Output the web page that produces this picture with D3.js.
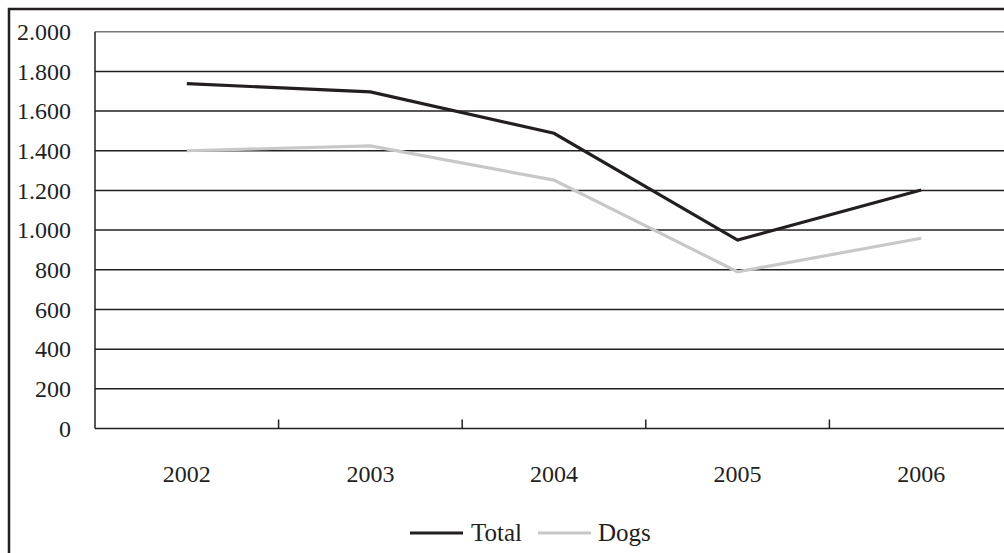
<!DOCTYPE html>
<html><head><meta charset="utf-8">
<script src="https://cdn.jsdelivr.net/npm/d3@7"></script>
<style>body{margin:0;background:#fff;}svg{display:block;}</style>
</head><body><svg id="c" width="1004" height="553"></svg>
<script>
const years = ["2002","2003","2004","2005","2006"];
const totalValues = [1738, 1697, 1488, 950, 1202];
const dogsValues = [1400, 1424, 1252, 790, 959];
const yTicks = [0,200,400,600,800,1000,1200,1400,1600,1800,2000];
const yTickLabels = ["0","200","400","600","800","1.000","1.200","1.400","1.600","1.800","2.000"];
const seriesNames = ["Total","Dogs"];
const seriesColors = ["#231f20","#c8c8c8"];
const FONT = "'Liberation Serif', 'Times New Roman', serif";

const svg = d3.select("#c");
svg.append("rect").attr("x",9).attr("y",9).attr("width",1100).attr("height",700)
  .attr("fill","none").attr("stroke","#231f20").attr("stroke-width",2.5);

const x = d3.scaleBand().domain(years).range([95,1013]);
const y = d3.scaleLinear().domain([0,2000]).range([428.5,31.7]);

svg.append("g").selectAll("line").data(yTicks.filter(t=>t>0)).join("line")
  .attr("x1",95).attr("x2",1013).attr("y1",d=>y(d)).attr("y2",d=>y(d))
  .attr("stroke",d=>d===2000?"#777":"#231f20").attr("stroke-width",1.5);

svg.append("line").attr("x1",95).attr("x2",95).attr("y1",y(2000)).attr("y2",y(0))
  .attr("stroke","#231f20").attr("stroke-width",1.5);
svg.append("line").attr("x1",95).attr("x2",1013).attr("y1",y(0)).attr("y2",y(0))
  .attr("stroke","#231f20").attr("stroke-width",1.5);
svg.append("g").selectAll("line").data(years.slice(1)).join("line")
  .attr("x1",d=>x(d)).attr("x2",d=>x(d)).attr("y1",y(0)).attr("y2",y(0)-9)
  .attr("stroke","#231f20").attr("stroke-width",1.5);

svg.append("g").selectAll("text").data(yTicks).join("text")
  .attr("x",71).attr("y",d=>y(d)).attr("dy","0.34em").attr("text-anchor","end")
  .style("font-family",FONT).style("font-size","24px").attr("fill","#231f20").text((d,i)=>yTickLabels[i]);

svg.append("g").selectAll("text").data(years).join("text")
  .attr("x",d=>x(d)+x.bandwidth()/2).attr("y",482).attr("text-anchor","middle")
  .style("font-family",FONT).style("font-size","24px").attr("fill","#231f20").text(d=>d);

const line = d3.line().x((d,i)=>x(years[i])+x.bandwidth()/2).y(d=>y(d));
[totalValues,dogsValues].forEach((vals,k)=>{
  svg.append("path").datum(vals).attr("d",line).attr("fill","none")
    .attr("stroke",seriesColors[k]).attr("stroke-width",3.2).attr("stroke-linejoin","miter");
});

const leg = [{x1:410,x2:463,tx:471},{x1:538,x2:591,tx:598}];
leg.forEach((l,k)=>{
  svg.append("line").attr("x1",l.x1).attr("x2",l.x2).attr("y1",533).attr("y2",533)
    .attr("stroke",seriesColors[k]).attr("stroke-width",3.2);
  svg.append("text").attr("x",l.tx).attr("y",541).style("font-family",FONT).style("font-size","25px")
    .attr("fill","#231f20").text(seriesNames[k]);
});
</script></body></html>
